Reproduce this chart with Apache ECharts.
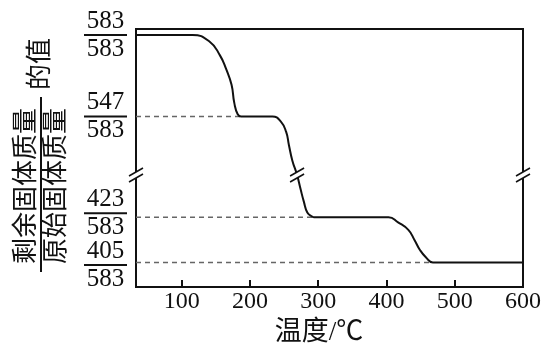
<!DOCTYPE html>
<html><head><meta charset="utf-8">
<script src="https://cdn.jsdelivr.net/npm/echarts@6/dist/echarts.min.js"></script>
<style>html,body{margin:0;padding:0;background:#fff}#c{width:544px;height:345px}</style>
</head><body><div id="c"></div>
<script>
// ---- data ----
const temps  = [33, 116, 141, 156, 165, 173, 177, 182, 187, 233, 245, 253, 257, 262, 269, 274, 279, 284, 291, 294, 403, 417, 432, 441, 449, 458, 468, 600];
const masses = [583, 583, 580, 574, 568, 561, 553, 548, 547, 547, 541, 528, 512, 493, 475, 458, 442, 429, 424, 423, 423, 421, 418, 414, 410, 407, 405, 405];
const levels = [583, 547, 423, 405];          // numerators of the y tick labels
const total = 583;                            // denominator
const guideLevels = [547, 423, 405];          // dashed guide lines
const guideEnds = [187, 294, 468];            // temperature where each guide meets the curve
const xTicks = [100, 200, 300, 400, 500, 600];
const xMin = 33, xMax = 600;
const breakMass = 475, breakTemp = 269;
const xTitle = '温度/℃';
const yNum = '剩余固体质量', yDen = '原始固体质量', ySuffix = '的值';

// ---- broken y axis: piecewise linear display scale ----
const SEG_M = [405, 423, 547, 583];
const SEG_P = [24.5, 69.7, 170.5, 252];
function disp(m) {
  const i = m <= SEG_M[1] ? 0 : (m <= SEG_M[2] ? 1 : 2);
  return SEG_P[i] + (m - SEG_M[i]) * (SEG_P[i + 1] - SEG_P[i]) / (SEG_M[i + 1] - SEG_M[i]);
}
// small vertical nudges so the two lowest fractions do not collide (layout only)
const LABEL_NUDGE = [0, 0, -4, 2.5];

const SERIF = 'Liberation Serif, DejaVu Serif, serif';
const CJK = 'Liberation Serif, Noto Sans CJK SC, serif';
const INK = '#111';

const series = [{
  type: 'line', data: temps.map((t, i) => [t, disp(masses[i])]),
  symbol: 'none', smooth: 0.5, lineStyle: { color: INK, width: 2 }, z: 5
}];
guideLevels.forEach((g, i) => {
  series.push({
    type: 'line', data: [[xMin, disp(g)], [guideEnds[i], disp(g)]], symbol: 'none',
    lineStyle: { color: '#666', width: 1.4, type: [5, 4] }, z: 3
  });
});

const option = {
  animation: false,
  grid: { left: 136, right: 19, top: 29, bottom: 58, show: true, borderColor: INK, borderWidth: 2 },
  xAxis: {
    type: 'value', min: xMin, max: xMax,
    axisLine: { show: true, lineStyle: { color: INK, width: 2 } },
    axisTick: { show: true, inside: true, length: 7, lineStyle: { color: INK, width: 2 }, customValues: xTicks.filter(v => v < xMax) },
    axisLabel: { color: INK, fontFamily: SERIF, fontSize: 24, margin: 3, customValues: xTicks },
    splitLine: { show: false }
  },
  yAxis: {
    type: 'value', min: 0, max: 258,
    axisLine: { show: true, lineStyle: { color: INK, width: 2 } },
    axisTick: { show: false },
    splitLine: { show: false },
    axisLabel: { show: false }
  },
  series
};

const chart = echarts.init(document.getElementById('c'));
chart.setOption(option);

function breakMark(cx, cy) {
  const w = 7, h = 4, d = 3;
  return [
    { type: 'polygon', z: 100, shape: { points: [[cx - w, cy + h - d], [cx + w, cy - h - d], [cx + w, cy - h + d], [cx - w, cy + h + d]] }, style: { fill: '#fff' } },
    { type: 'line', z: 101, shape: { x1: cx - w, y1: cy + h - d, x2: cx + w, y2: cy - h - d }, style: { stroke: INK, lineWidth: 1.6 } },
    { type: 'line', z: 101, shape: { x1: cx - w, y1: cy + h + d, x2: cx + w, y2: cy - h + d }, style: { stroke: INK, lineWidth: 1.6 } }
  ];
}
const px = (t, m) => chart.convertToPixel({ gridIndex: 0 }, [t, disp(m)]);
const pL = px(xMin, breakMass), pR = px(xMax, breakMass), pC = px(breakTemp, breakMass);

// y tick labels drawn as fractions at the axis positions of each level
const yLabels = levels.map((lv, i) => {
  const p = px(xMin, lv);
  return {
    type: 'text', x: p[0] - 9, y: p[1] + LABEL_NUDGE[i], z: 100,
    style: {
      text: '{n|' + lv + '}\n{l|}\n{d|' + total + '}',
      align: 'right', verticalAlign: 'middle',
      rich: {
        n: { fontFamily: SERIF, fontSize: 25, fill: INK, lineHeight: 26, width: 43, align: 'center' },
        l: { width: 43, height: 2, lineHeight: 2, backgroundColor: INK },
        d: { fontFamily: SERIF, fontSize: 25, fill: INK, lineHeight: 26, width: 43, align: 'center' }
      }
    }
  };
});

const graphic = [].concat(breakMark(pL[0], pL[1]), breakMark(pR[0], pR[1]), breakMark(pC[0], pC[1]), yLabels, [
  { type: 'text', x: 27, y: 186, rotation: Math.PI / 2, z: 100,
    style: { text: yNum, font: '26px ' + CJK, fill: INK, align: 'center', verticalAlign: 'middle' } },
  { type: 'text', x: 57, y: 186, rotation: Math.PI / 2, z: 100,
    style: { text: yDen, font: '26px ' + CJK, fill: INK, align: 'center', verticalAlign: 'middle' } },
  { type: 'line', z: 100, shape: { x1: 41, y1: 97, x2: 41, y2: 272 }, style: { stroke: INK, lineWidth: 2 } },
  { type: 'text', x: 41, y: 64, rotation: Math.PI / 2, z: 100,
    style: { text: ySuffix, font: '26px ' + CJK, fill: INK, align: 'center', verticalAlign: 'middle' } },
  { type: 'text', x: 319, y: 333, z: 100,
    style: { text: xTitle, font: '27px ' + CJK, fill: INK, align: 'center', verticalAlign: 'middle' } }
]);
chart.setOption({ graphic });
</script>
</body></html>
